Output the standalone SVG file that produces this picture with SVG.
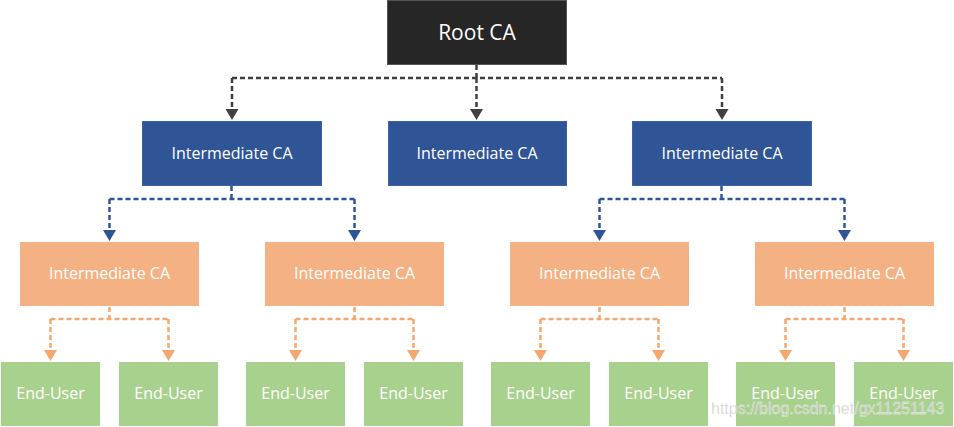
<svg xmlns="http://www.w3.org/2000/svg" width="954" height="427" viewBox="0 0 954 427">
<style>
text{font-family:"Open Sans","Noto Sans","Liberation Sans",sans-serif;fill:#fff;text-anchor:middle;dominant-baseline:central}
.lbl{font-size:16px}
.root{fill:#262626;stroke:#555;stroke-width:1}
.blue{fill:#2F5597;stroke:#3a63a8;stroke-width:1}
.orange{fill:#F4B183}
.green{fill:#A9D18E}
.c{fill:none;stroke-width:2.5;stroke-dasharray:5 3}
.k{stroke:#404040}.b{stroke:#2F5597}.o{stroke:#F4A76E;}
.wm{font-family:"Liberation Sans",Arial,sans-serif;font-size:16px;fill:#c8c8c8;text-anchor:start;stroke:#fff;stroke-width:0.3;opacity:0.9}
</style>
<g id="connectors">
<path class="c k" d="M476.5,65V78M232,78H722M232,78V110M476.5,78V110M722,78V110"/>
<g fill="#404040">
<path d="M225.5,109H238.5L232,120z"/>
<path d="M470,109H483L476.5,120z"/>
<path d="M715.5,109H728.5L722,120z"/>
</g>
<path class="c b" d="M231.5,186V199M109.5,199H354.5M109.5,199V231M354.5,199V231"/>
<path class="c b" d="M721.5,186V199M599.5,199H844.5M599.5,199V231M844.5,199V231"/>
<g fill="#2F5597">
<path d="M103,230H116L109.5,241z"/>
<path d="M348,230H361L354.5,241z"/>
<path d="M593,230H606L599.5,241z"/>
<path d="M838,230H851L844.5,241z"/>
</g>
<path class="c o" d="M109.5,307V319M50.5,319H168.5M50.5,319V351M168.5,319V351"/>
<path class="c o" d="M354.5,307V319M295.5,319H413.5M295.5,319V351M413.5,319V351"/>
<path class="c o" d="M599.5,307V319M540.5,319H658.5M540.5,319V351M658.5,319V351"/>
<path class="c o" d="M844.5,307V319M785.5,319H903.5M785.5,319V351M903.5,319V351"/>
<g fill="#F4A76E">
<path d="M44,350H57L50.5,361z"/><path d="M162,350H175L168.5,361z"/>
<path d="M289,350H302L295.5,361z"/><path d="M407,350H420L413.5,361z"/>
<path d="M534,350H547L540.5,361z"/><path d="M652,350H665L658.5,361z"/>
<path d="M779,350H792L785.5,361z"/><path d="M897,350H910L903.5,361z"/>
</g>
</g>
<g id="root"><rect class="root" x="387.5" y="0.5" width="179" height="64"/><text x="477" y="32" font-size="21">Root CA</text></g>
<g id="int1"><rect class="blue" x="142.5" y="121.5" width="179" height="64"/><text class="lbl" x="232" y="153">Intermediate CA</text></g>
<g id="int2"><rect class="blue" x="388.5" y="121.5" width="178" height="64"/><text class="lbl" x="477" y="153">Intermediate CA</text></g>
<g id="int3"><rect class="blue" x="632.5" y="121.5" width="179" height="64"/><text class="lbl" x="722" y="153">Intermediate CA</text></g>
<g id="sub1"><rect class="orange" x="20" y="242" width="179" height="64"/><text class="lbl" x="109.5" y="273">Intermediate CA</text></g>
<g id="sub2"><rect class="orange" x="265" y="242" width="179" height="64"/><text class="lbl" x="354.5" y="273">Intermediate CA</text></g>
<g id="sub3"><rect class="orange" x="510" y="242" width="179" height="64"/><text class="lbl" x="599.5" y="273">Intermediate CA</text></g>
<g id="sub4"><rect class="orange" x="755" y="242" width="179" height="64"/><text class="lbl" x="844.5" y="273">Intermediate CA</text></g>
<g id="eu1"><rect class="green" x="1" y="362" width="99" height="64"/><text class="lbl" x="50.5" y="393">End-User</text></g>
<g id="eu2"><rect class="green" x="119" y="362" width="99" height="64"/><text class="lbl" x="168.5" y="393">End-User</text></g>
<g id="eu3"><rect class="green" x="246" y="362" width="99" height="64"/><text class="lbl" x="295.5" y="393">End-User</text></g>
<g id="eu4"><rect class="green" x="364" y="362" width="99" height="64"/><text class="lbl" x="413.5" y="393">End-User</text></g>
<g id="eu5"><rect class="green" x="491" y="362" width="99" height="64"/><text class="lbl" x="540.5" y="393">End-User</text></g>
<g id="eu6"><rect class="green" x="609" y="362" width="99" height="64"/><text class="lbl" x="658.5" y="393">End-User</text></g>
<g id="eu7"><rect class="green" x="736" y="362" width="99" height="64"/><text class="lbl" x="785.5" y="393">End-User</text></g>
<g id="eu8"><rect class="green" x="854" y="362" width="99" height="64"/><text class="lbl" x="903.5" y="393">End-User</text></g>
<text class="wm" x="711" y="408">https://blog.csdn.net/gx11251143</text>
</svg>
